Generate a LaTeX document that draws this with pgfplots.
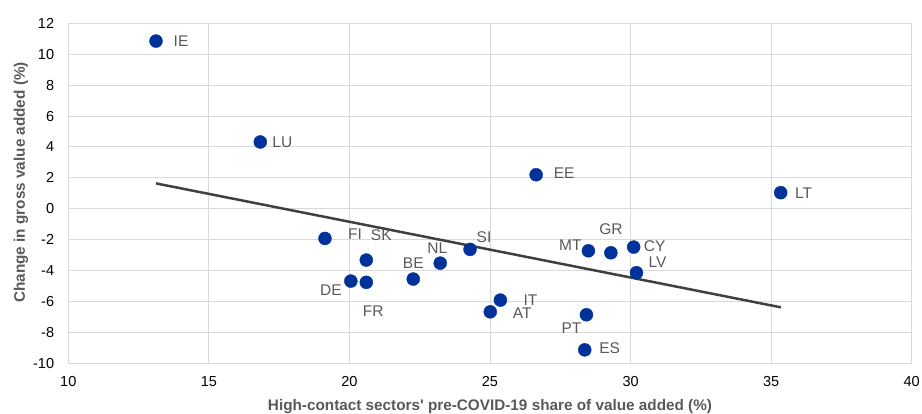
\documentclass[border=0pt]{standalone}
\usepackage{pgfplots}
\pgfplotsset{compat=1.18}
\usepackage{pgfplotstable}
\usepackage{fontspec}
\setmainfont{Liberation Sans}

\definecolor{ecbblue}{HTML}{003299}
\definecolor{labgray}{HTML}{595959}
\definecolor{gridgray}{HTML}{D9D9D9}
\definecolor{trendgray}{HTML}{404040}

% x, y, label, label offset (dx right, dy up)
\pgfplotstableread{
x      y      lbl  dx   dy
13.12  10.85  IE   25   0
16.83  4.32   LU   22   0
26.64  2.20   EE   28   2
35.34  1.04   LT   23   0
19.13  -1.92  FI   30   4
20.60  -3.32  SK   15   25
20.05  -4.68  DE   -20  -9
20.60  -4.76  FR   7    -29
22.27  -4.55  BE   0    16
23.23  -3.52  NL   -3   15
24.29  -2.63  SI   14   12
28.50  -2.72  MT   -18  6
29.30  -2.85  GR   0    24
30.11  -2.48  CY   21   1
30.21  -4.14  LV   21   11
25.37  -5.91  IT   30   0
25.01  -6.67  AT   32   -1
28.43  -6.86  PT   -15  -13
28.37  -9.13  ES   25   2
}\pointdata

\begin{document}
\begin{tikzpicture}
\begin{axis}[
    scale only axis,
    width=843.4pt, height=340pt,
    xmin=10, xmax=40, ymin=-10, ymax=12,
    xtick={10,15,...,40},
    ytick={-10,-8,...,12},
    grid=major,
    major grid style={gridgray, line width=1pt},
    axis line style={gridgray, line width=1pt},
    tick style={draw=none},
    /pgf/number format/assume math mode=true,
    ticklabel style={font=\fontsize{14.5}{16}\selectfont, text=black},
    yticklabel style={anchor=east, inner sep=0pt, xshift=-14pt},
    xticklabel style={anchor=north, inner sep=0pt, yshift=-13pt},
    xlabel={High-contact sectors\textquotesingle{} pre-COVID-19 share of value added (\%)},
    ylabel={Change in gross value added (\%)},
    label style={font=\fontsize{15.3}{17}\selectfont\bfseries, text=labgray},
    xlabel style={at={(axis description cs:0.5,0)}, anchor=base, inner sep=0pt, yshift=-47pt},
    ylabel style={at={(axis description cs:-0.0515,0.532)}, anchor=base, inner sep=0pt},
    clip=false,
]
\addplot[trendgray, line width=2.5pt] coordinates {(13.12,1.64) (35.35,-6.38)};
\addplot[
    only marks, mark=*, mark size=6.5pt,
    mark options={fill=ecbblue, draw=ecbblue},
    point meta=explicit symbolic,
    nodes near coords,
    visualization depends on={\thisrow{dx}\as\dx},
    visualization depends on={\thisrow{dy}\as\dy},
    every node near coord/.append style={anchor=center, inner sep=0pt,
        xshift=\dx pt, yshift=\dy pt, text=labgray,
        font=\fontsize{15.5}{17}\selectfont},
] table[x=x, y=y, meta=lbl] {\pointdata};
\end{axis}
\pgfresetboundingbox
\path (-68.3pt,-50.7pt) rectangle (853.7pt,363.3pt);
\end{tikzpicture}
\end{document}
